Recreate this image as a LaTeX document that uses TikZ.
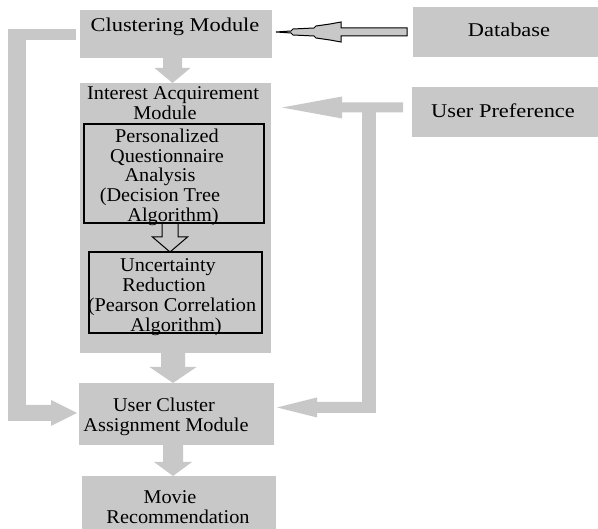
\documentclass[tikz,border=0pt]{standalone}
\usepackage{fontspec}
\setmainfont{Liberation Serif}[FakeStretch=1.04]
\newfontfamily\widefont{Liberation Serif}[FakeStretch=1.15]
\usetikzlibrary{calc}
\definecolor{boxgray}{RGB}{200,200,200}

% block arrow pointing down: from, to, shaft half width, head half width, head length
\newcommand\downblock[5]{%
  \fill[boxgray] let \p1=(#1), \p2=(#2) in
    (\x1-#3pt,\y1) -- (\x1+#3pt,\y1) -- (\x1+#3pt,\y2+#5pt) -- (\x1+#4pt,\y2+#5pt)
    -- (\x1,\y2) -- (\x1-#4pt,\y2+#5pt) -- (\x1-#3pt,\y2+#5pt) -- cycle;}
% block arrow pointing left
\newcommand\leftblock[5]{%
  \fill[boxgray] let \p1=(#1), \p2=(#2) in
    (\x1,\y2+#3pt) -- (\x2+#5pt,\y2+#3pt) -- (\x2+#5pt,\y2+#4pt) -- (\x2,\y2)
    -- (\x2+#5pt,\y2-#4pt) -- (\x2+#5pt,\y2-#3pt) -- (\x1,\y2-#3pt) -- cycle;}
% block arrow pointing right
\newcommand\rightblock[5]{%
  \fill[boxgray] let \p1=(#1), \p2=(#2) in
    (\x1,\y2+#3pt) -- (\x2-#5pt,\y2+#3pt) -- (\x2-#5pt,\y2+#4pt) -- (\x2,\y2)
    -- (\x2-#5pt,\y2-#4pt) -- (\x2-#5pt,\y2-#3pt) -- (\x1,\y2-#3pt) -- cycle;}

\tikzset{
  box/.style={fill=boxgray, draw=none, inner sep=0pt, outer sep=0pt},
  frame/.style={draw=black, line width=1.1pt, inner sep=0pt, outer sep=0pt},
  lbl/.style={anchor=base, inner sep=0pt, font=\fontsize{19.5}{20}\selectfont},
  widelbl/.style={lbl, font=\widefont\fontsize{19.5}{20}\selectfont},
  gbar/.style={draw=boxgray, line cap=butt},
}

\begin{document}
\begin{tikzpicture}[x=1pt, y=-1pt]
\useasboundingbox (0,0) rectangle (598,529);

% boxes
\node[box, minimum width=192pt, minimum height=48pt] (clus) at (176,34) {};
\node[box, minimum width=189pt, minimum height=50pt] (db) at (507.5,32) {};
\node[box, minimum width=190pt, minimum height=50pt] (pref) at (507,112) {};
\node[box, minimum width=191pt, minimum height=270pt] (interest) at (175.5,218) {};
\node[frame, minimum width=180pt, minimum height=99pt] (pqa) at (174,173.5) {};
\node[frame, minimum width=173pt, minimum height=81pt] (unc) at (175.5,292.5) {};
\node[box, minimum width=195pt, minimum height=62pt] (uca) at (176.5,414) {};
\node[box, minimum width=194pt, minimum height=59pt] (movie) at (179,505.5) {};

% database -> clustering (outlined arrow)
\draw[fill=boxgray, draw=black, line width=1pt, line join=miter]
  let \p1=($(db.west)+(-6,0)$), \p2=($(clus.east)+(4,-2)$) in
  (\x1,\y2+4pt) -- (\x2+65pt,\y2+4pt) -- (\x2+65pt,\y2+10pt) -- (\x2+54pt,\y2+8pt)
  -- (\x2+40pt,\y2+6pt) -- (\x2+38pt,\y2+4pt) -- (\x2+17pt,\y2+3pt) -- (\x2+15pt,\y2+1pt)
  -- (\x2,\y2) -- (\x2+15pt,\y2-1pt) -- (\x2+17pt,\y2-3pt) -- (\x2+38pt,\y2-4pt)
  -- (\x2+40pt,\y2-6pt) -- (\x2+54pt,\y2-8pt) -- (\x2+65pt,\y2-10pt) -- (\x2+65pt,\y2-4pt)
  -- (\x1,\y2-4pt) -- cycle;

% vertical flow
\downblock{$(clus.south)+(-3.5,0)$}{$(interest.north)+(-3,0)$}{9.5}{18}{15}
\downblock{$(interest.south)+(-2.5,0)$}{$(uca.north)+(-3.5,0)$}{12}{23.5}{16}
\downblock{$(uca.south)+(-3.5,0)$}{$(movie.north)+(-6,0)$}{10}{19}{14}

% hollow arrow between the two inner steps
\draw[line width=1pt, line join=miter]
  let \p1=($(pqa.south)+(-4,0)$), \p2=($(unc.north)+(-5.5,0)$) in
  (\x1-8pt,\y1) -- (\x1-8pt,\y2+15pt) -- (\x1-17.5pt,\y2+15pt) -- (\x1,\y2)
  -- (\x1+17.5pt,\y2+15pt) -- (\x1+8pt,\y2+15pt) -- (\x1+8pt,\y1);

% left loop: clustering -> user cluster assignment
\coordinate (lcTop) at (8,34.5);
\coordinate (lcA) at (17,29);
\coordinate (lcB) at (17,421);
\coordinate (lcBot) at (8,413);
\draw[gbar, line width=11pt] ($(clus.west)+(-4,0.5)$) -- (lcTop);
\draw[gbar, line width=18pt] (lcA) -- (lcB);
\rightblock{lcBot}{$(uca.west)+(-2,-1)$}{8}{13}{26}

% right loop: user preference -> interest module and user cluster assignment
\leftblock{$(pref.west)+(-9,-4.5)$}{$(pref.west -| interest.east)+(11,-4.5)$}{5}{11}{60}
\coordinate (rv1) at (369,103);
\coordinate (rv2) at (369,413);
\draw[gbar, line width=14pt] (rv1) -- (rv2);
\coordinate (rbot) at (362,407.5);
\leftblock{rbot}{$(uca.east)+(3,-6.5)$}{5.5}{10}{40}

% labels
\node[widelbl] (clusT) at (175,32) {Clustering Module};
\node[widelbl] (dbT) at (509,37) {Database};
\node[widelbl] (prefT) at (503,118) {User Preference};
\foreach \x/\y/\t [count=\i] in {173/100/Interest Acquirement, 165/120/Module}
  \node[lbl] (intT\i) at (\x,\y) {\t};
\foreach \x/\y/\t [count=\i] in {167/143/Personalized, 167/163/Questionnaire,
    160/182/Analysis, 160/202/(Decision Tree, 173/222/Algorithm)}
  \node[lbl] (pqaT\i) at (\x,\y) {\t};
\foreach \x/\y/\t [count=\i] in {168/272/Uncertainty, 164/292/Reduction,
    172/312/(Pearson Correlation, 176/332/Algorithm)}
  \node[lbl] (uncT\i) at (\x,\y) {\t};
\foreach \x/\y/\t [count=\i] in {164/412/User Cluster, 166/432/Assignment Module}
  \node[lbl] (ucaT\i) at (\x,\y) {\t};
\foreach \x/\y/\t [count=\i] in {170/504/Movie, 178/524/Recommendation}
  \node[lbl] (movT\i) at (\x,\y) {\t};
\end{tikzpicture}
\end{document}
